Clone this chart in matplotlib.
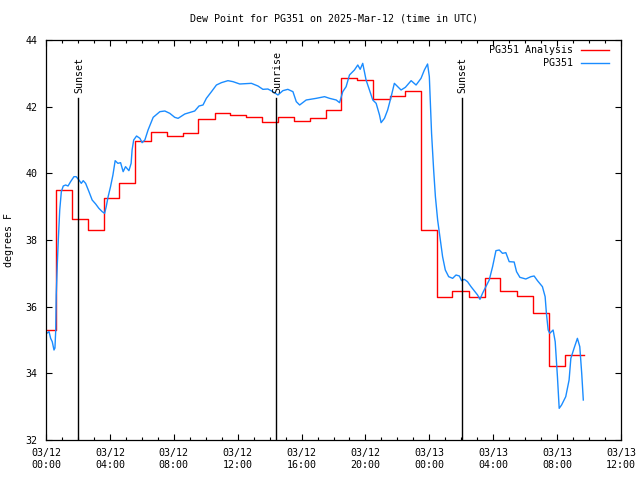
import matplotlib
matplotlib.use("Agg")
import matplotlib.pyplot as plt
from matplotlib.ticker import MultipleLocator, FixedLocator

# ---- data (hours since 2025-03-12 00:00 UTC) ----
analysis_hours = [0, 0.6, 1.6, 2.6, 3.6, 4.55, 5.55, 6.55, 7.55, 8.55, 9.5, 10.55,
                  11.55, 12.55, 13.55, 14.55, 15.55, 16.55, 17.55, 18.5, 19.5,
                  20.5, 21.55, 22.5, 23.5, 24.45, 25.45, 26.5, 27.5, 28.45,
                  29.5, 30.5, 31.5, 32.5, 33.69]
analysis_vals = [35.3, 39.5, 38.62, 38.3, 39.25, 39.7, 40.97, 41.23, 41.11, 41.2,
                 41.63, 41.8, 41.76, 41.68, 41.53, 41.68, 41.57, 41.65, 41.9,
                 42.85, 42.8, 42.22, 42.33, 42.48, 38.3, 36.28, 36.48, 36.28,
                 36.85, 36.47, 36.32, 35.82, 34.22, 34.54, 34.54]

obs_hours = [0.04, 0.19, 0.29, 0.39, 0.5, 0.56, 0.61, 0.64, 0.71, 0.77, 0.86, 0.96,
             1.08, 1.23, 1.38, 1.54, 1.75, 1.89, 2.06, 2.21, 2.33, 2.48, 2.69, 2.89,
             3.11, 3.31, 3.52, 3.67, 3.77, 3.89, 4.04, 4.19, 4.33, 4.5, 4.67, 4.83,
             4.98, 5.19, 5.33, 5.39, 5.49, 5.67, 5.88, 6.02, 6.19, 6.39, 6.71, 7.13,
             7.44, 7.75, 8.06, 8.27, 8.69, 9.31, 9.58, 9.83, 10.04, 10.36, 10.67,
             10.98, 11.39, 11.71, 12.13, 12.86, 13.27, 13.58, 13.89, 14.21, 14.52,
             14.83, 15.14, 15.46, 15.67, 15.88, 16.29, 16.92, 17.44, 17.75, 18.17,
             18.38, 18.58, 18.79, 19.0, 19.31, 19.52, 19.67, 19.83, 20.04, 20.25,
             20.46, 20.67, 20.88, 20.98, 21.19, 21.39, 21.61, 21.81, 22.02, 22.23,
             22.5, 22.86, 23.17, 23.48, 23.69, 23.89, 24.0, 24.06, 24.14, 24.27,
             24.38, 24.52, 24.69, 24.83, 25.0, 25.21, 25.46, 25.67, 25.88, 26.02,
             26.19, 26.39, 26.61, 26.86, 27.02, 27.17, 27.33, 27.54, 27.75, 27.96,
             28.17, 28.38, 28.58, 28.79, 29.0, 29.31, 29.46, 29.67, 30.04, 30.36,
             30.56, 30.77, 31.08, 31.25, 31.33, 31.44, 31.54, 31.75, 31.88, 32.02,
             32.13, 32.28, 32.54, 32.75, 32.86, 33.06, 33.27, 33.42, 33.54, 33.64]
obs_vals = [35.2, 35.25, 35.05, 34.95, 34.7, 34.76, 35.3, 36.35, 37.3, 38.0, 38.9, 39.45,
            39.62, 39.65, 39.62, 39.75, 39.9, 39.9, 39.8, 39.7, 39.78, 39.7, 39.45, 39.2,
            39.08, 38.95, 38.85, 38.8, 39.0, 39.3, 39.6, 39.95, 40.38, 40.3, 40.32, 40.05,
            40.2, 40.08, 40.3, 40.7, 41.0, 41.12, 41.05, 40.92, 41.0, 41.3, 41.68, 41.85,
            41.87, 41.8, 41.68, 41.65, 41.78, 41.87, 42.02, 42.05, 42.25, 42.45, 42.65,
            42.72, 42.78, 42.75, 42.68, 42.7, 42.62, 42.52, 42.53, 42.45, 42.35,
            42.48, 42.52, 42.45, 42.15, 42.05, 42.2, 42.25, 42.3, 42.25, 42.2,
            42.12, 42.45, 42.6, 42.95, 43.1, 43.25, 43.12, 43.3, 42.8, 42.5,
            42.2, 42.1, 41.75, 41.52, 41.65, 41.9, 42.3, 42.7, 42.6, 42.5,
            42.58, 42.78, 42.65, 42.85, 43.1, 43.28, 42.9, 42.2, 41.2, 40.1,
            39.3, 38.6, 38.0, 37.5, 37.1, 36.9, 36.85, 36.95, 36.92, 36.78,
            36.82, 36.75, 36.6, 36.45, 36.35, 36.22, 36.4, 36.6, 36.8, 37.2,
            37.68, 37.7, 37.6, 37.62, 37.35, 37.34, 37.05, 36.88, 36.83, 36.9,
            36.92, 36.78, 36.6, 36.3, 35.8, 35.3, 35.2, 35.3, 34.95, 33.9,
            32.95, 33.05, 33.3, 33.8, 34.45, 34.75, 35.05, 34.8, 34.0, 33.2]

event_hours = [2.03, 14.42, 26.02]
event_labels = ["Sunset", "Sunrise", "Sunset"]

tick_hours = [0, 4, 8, 12, 16, 20, 24, 28, 32, 36]
tick_labels = ["03/12\n00:00", "03/12\n04:00", "03/12\n08:00", "03/12\n12:00",
               "03/12\n16:00", "03/12\n20:00", "03/13\n00:00", "03/13\n04:00",
               "03/13\n08:00", "03/13\n12:00"]
series_names = ["PG351 Analysis", "PG351"]

RED = "#ff0000"
BLUE = "#1a8cff"
FONT = "DejaVu Sans Mono"
FS = 7.2

plt.rcParams['font.family'] = FONT
fig = plt.figure(figsize=(6.4, 4.8), dpi=100)
ax = fig.add_axes([46/640, 40/480, 575/640, 400/480])

ax.plot(analysis_hours, analysis_vals, drawstyle='steps-post', color=RED, lw=1.0)
ax.plot(obs_hours, obs_vals, color=BLUE, lw=1.0)

for h, lab in zip(event_hours, event_labels):
    ax.plot([h, h], [32, 42.25], color='black', lw=1.0)
    ax.text(h + 0.05, 42.42, lab, rotation=90, ha='center', va='bottom',
            fontsize=FS, family=FONT)

ax.set_xlim(0, 36)
ax.set_ylim(32, 44)
ax.xaxis.set_major_locator(FixedLocator(tick_hours))
ax.set_xticklabels(tick_labels)
ax.xaxis.set_minor_locator(MultipleLocator(1))
ax.yaxis.set_major_locator(MultipleLocator(2))
ax.tick_params(which='both', direction='in', top=True, right=True,
               labelsize=FS, width=0.8)
ax.tick_params(which='major', length=4, pad=6)
ax.tick_params(which='minor', length=2.5)
for sp in ax.spines.values():
    sp.set_linewidth(0.9)

ax.set_title("Dew Point for PG351 on 2025-Mar-12 (time in UTC)", fontsize=FS,
             pad=13)
ax.set_ylabel("degrees F", fontsize=FS)
ax.yaxis.set_label_coords(-0.056, 0.5)

# legend (gnuplot style: right-aligned text, sample to the right)
for i, (name, col) in enumerate(zip(series_names, [RED, BLUE])):
    yy = 0.975 - i * 0.033
    ax.text(0.916, yy, name, transform=ax.transAxes, ha='right', va='center',
            fontsize=FS)
    ax.plot([0.930, 0.979], [yy, yy], transform=ax.transAxes, color=col, lw=1.0)

fig.savefig("out.png", dpi=100)
